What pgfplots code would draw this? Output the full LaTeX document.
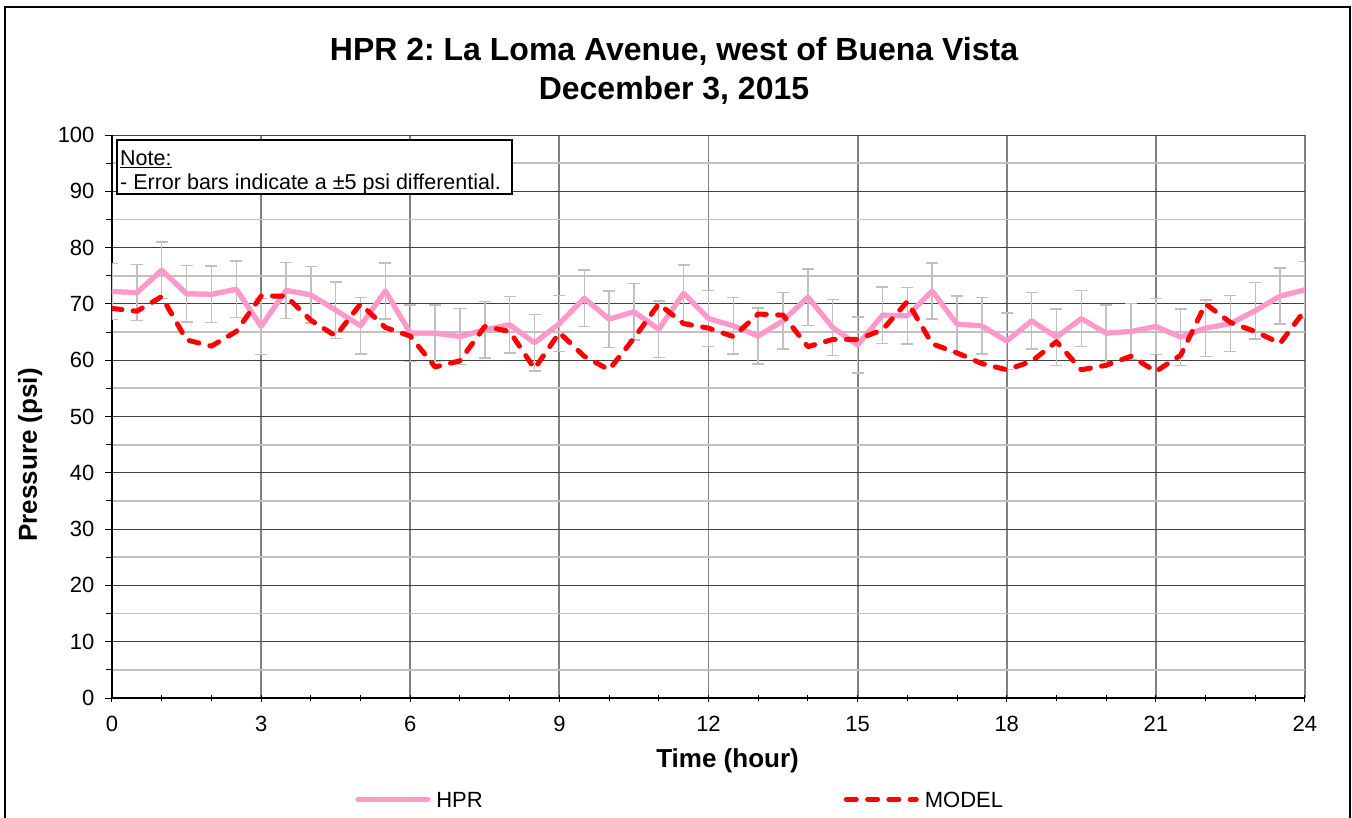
\documentclass[border=0pt]{standalone}
\usepackage{fontspec}
\setmainfont{Liberation Sans}
\usepackage{pgfplots}
\pgfplotsset{compat=1.18}
\usepackage{pgfplotstable}
\frenchspacing

\definecolor{hprpink}{HTML}{FF99CC}
\definecolor{errgray}{HTML}{C0C0C0}
\definecolor{vgrid}{HTML}{808080}
\definecolor{hgrid}{HTML}{404040}
\definecolor{hminor}{HTML}{C0C0C0}

% HPR readings (psi), every half hour
\pgfplotstableread{
t   p
0    72.2
0.5  72.0
1    76.0
1.5  71.8
2    71.7
2.5  72.6
3    66.0
3.5  72.4
4    71.6
4.5  68.9
5    66.1
5.5  72.3
6    64.8
6.5  64.8
7    64.2
7.5  65.4
8    66.3
8.5  63.1
9    66.5
9.5  71.0
10   67.3
10.5 68.6
11   65.5
11.5 71.9
12   67.4
12.5 66.1
13   64.3
13.5 67.0
14   71.2
14.5 65.8
15   62.7
15.5 68.0
16   67.9
16.5 72.3
17   66.4
17.5 66.1
18   63.4
18.5 67.0
19   64.1
19.5 67.4
20   64.8
20.5 65.1
21   66.0
21.5 64.1
22   65.7
22.5 66.5
23   68.8
23.5 71.4
24   72.5
}\hprdata

% model results (psi)
\pgfplotstableread{
t   p
0    69.2
0.5  68.7
1    71.3
1.5  63.6
2    62.5
2.5  65.1
3    71.4
3.5  71.4
4    67.1
4.5  64.3
5    70.0
5.5  65.8
6    64.3
6.5  58.8
7    59.9
7.5  66.0
8    65.1
8.5  58.5
9    64.9
9.5  60.7
10   58.3
10.5 63.9
11   70.0
11.5 66.5
12   65.7
12.5 64.2
13   68.2
13.5 68.0
14   62.4
14.5 63.7
15   63.7
15.5 65.4
16   70.4
16.5 62.9
17   61.3
17.5 59.4
18   58.3
18.5 59.8
19   63.3
19.5 58.3
20   59.1
20.5 60.7
21   58.0
21.5 60.9
22   70.0
22.5 66.7
23   65.1
23.5 63.0
24   68.9
}\modeldata

\begin{document}
\begin{tikzpicture}
\useasboundingbox (0,0) rectangle (1352pt,-817pt);
\clip (0,0) rectangle (1352pt,-817pt);

% outer chart frame (bottom edge runs off the page)
\draw[line width=2pt] (5pt,-7pt) rectangle (1350pt,-840pt);

\begin{axis}[
    at={(112pt,-698pt)}, anchor=south west,
    scale only axis,
    width=1193pt, height=563pt,
    xmin=0, xmax=24, ymin=0, ymax=100,
    clip marker paths=true,
    xtick={0,3,...,24}, minor x tick num=2,
    ytick={0,10,...,100}, minor y tick num=1,
    axis x line*=bottom, axis y line*=left,
    axis line style={-, line width=1.3pt, black},
    xmajorgrids=true, ymajorgrids=true, yminorgrids=true,
    major x grid style={vgrid, line width=1.8pt},
    major y grid style={hgrid, line width=1pt},
    minor y grid style={hminor, line width=1.8pt},
    tick align=outside,
    major tick length=7pt, minor tick length=6pt,
    tick style={black, line width=1pt},
    x tick style={yshift=3.5pt},
    /pgf/number format/assume math mode=true,
    tick label style={font=\fontsize{22}{26}\selectfont},
    xticklabel style={yshift=-8pt},
    yticklabel style={xshift=-7pt},
    label style={font=\bfseries\fontsize{26}{30}\selectfont},
    xlabel={Time (hour)},
    ylabel={Pressure (psi)},
    xlabel style={at={(axis description cs:0.516,-0.124)}, anchor=base},
    ylabel style={at={(axis description cs:-0.063,0.432)}, anchor=base},
    legend columns=2,
    legend style={at={(axis description cs:0.204,-0.1819)}, anchor=west,
        draw=none, fill=none, inner sep=0pt, outer sep=0pt,
        font=\fontsize{22}{26}\selectfont,
        nodes={inner sep=0pt, anchor=base west},
        /tikz/every odd column/.style={column sep=6pt},
        /tikz/every even column/.style={column sep=361pt}},
    legend image code/.code={\draw[#1] (0pt,8pt) -- (70pt,8pt);},
]
% HPR with +/- 5 psi error bars; the line is drawn again on top
\addplot[forget plot, hprpink, line width=5pt, line join=round,
    error bars/.cd, y dir=both, y fixed=5, error mark=none,
    error bar style={errgray, solid, line width=1.4pt}]
    table[x=t, y=p] {\hprdata};
% caps of the error bars
\addplot[forget plot, only marks, mark=-, mark size=6pt,
    mark options={errgray, line width=1.4pt}]
    table[x=t, y expr=\thisrow{p}+5] {\hprdata};
\addplot[forget plot, only marks, mark=-, mark size=6pt,
    mark options={errgray, line width=1.4pt}]
    table[x=t, y expr=\thisrow{p}-5] {\hprdata};
\addplot[hprpink, line width=5pt, line join=round, line cap=round]
    table[x=t, y=p] {\hprdata};
\addlegendentry{HPR}
\addplot[red, line width=5pt, line cap=round, line join=round,
    dash pattern=on 10pt off 11.3pt]
    table[x=t, y=p] {\modeldata};
\addlegendentry{MODEL}
\end{axis}

% note box
\draw[line width=1.5pt, fill=white] (117pt,-140pt) rectangle (512pt,-194pt);
\node[anchor=base west, inner sep=0pt, font=\fontsize{21.5}{25}\selectfont]
    at (120pt,-165.5pt) {\underline{Note:}};
\node[anchor=base west, inner sep=0pt, font=\fontsize{21.5}{25}\selectfont]
    at (120pt,-189pt) {- Error bars indicate a ±5 psi differential.};

% title
\node[anchor=base, inner sep=0pt, font=\bfseries\fontsize{32}{38}\selectfont]
    at (674pt,-60pt) {HPR 2: La Loma Avenue, west of Buena Vista};
\node[anchor=base, inner sep=0pt, font=\bfseries\fontsize{32}{38}\selectfont]
    at (674pt,-99pt) {December 3, 2015};
\end{tikzpicture}
\end{document}
